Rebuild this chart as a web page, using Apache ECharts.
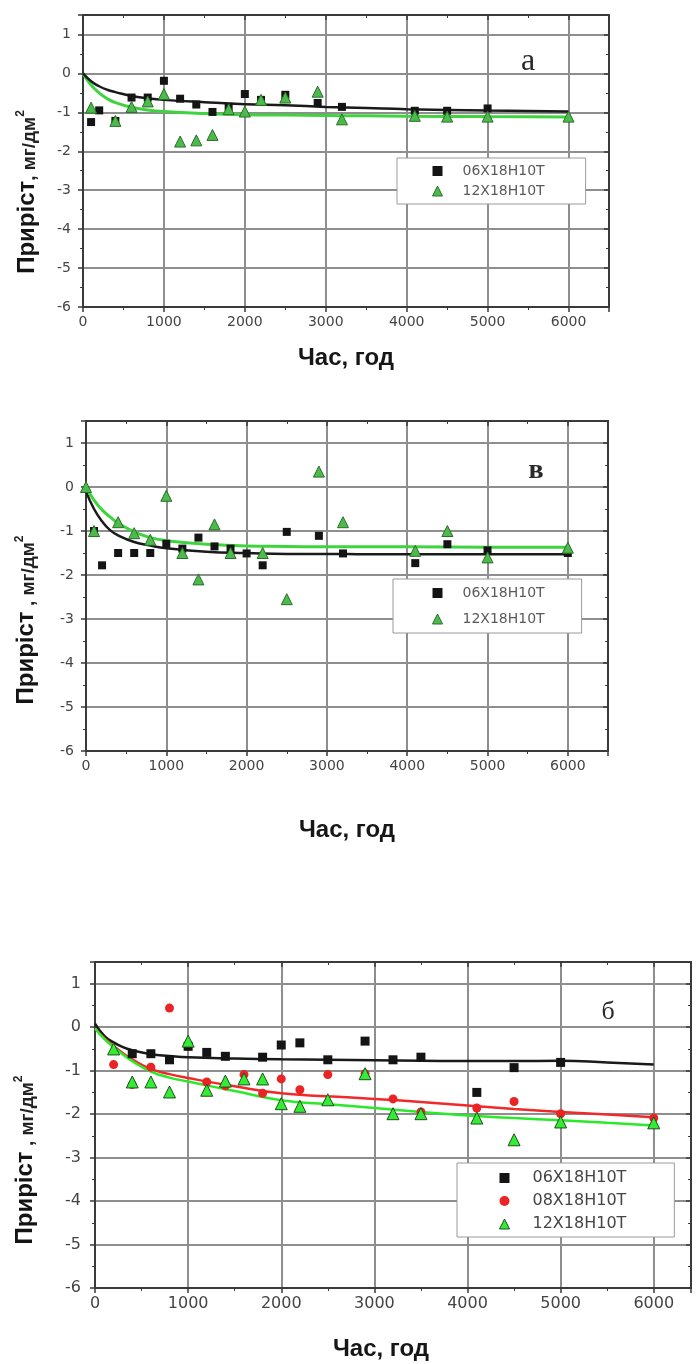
<!DOCTYPE html>
<html lang="uk">
<head>
<meta charset="UTF-8">
<title>Приріст маси сталей</title>
<script src="https://cdn.jsdelivr.net/npm/echarts/dist/echarts.min.js"></script>
<style>
    body { margin: 0; padding: 0; background: #fff; }
    #chart { width: 696px; height: 1364px; }
</style>
</head>
<body>
<div id="chart"></div>
<script>
    // ---- панель "а" ----
    const aTime06 = [100, 200, 400, 600, 800, 1000, 1200, 1400, 1600, 1800, 2000, 2200, 2500, 2900, 3200, 4100, 4500, 5000];
    const aVal06 = [-1.25, -0.95, -1.22, -0.62, -0.62, -0.19, -0.65, -0.80, -0.99, -0.86, -0.53, -0.68, -0.55, -0.76, -0.86, -0.96, -0.96, -0.90];
    const aTime12 = [100, 400, 600, 800, 1000, 1200, 1400, 1600, 1800, 2000, 2200, 2500, 2900, 3200, 4100, 4500, 5000, 6000];
    const aVal12 = [-0.88, -1.22, -0.86, -0.72, -0.53, -1.75, -1.72, -1.58, -0.92, -0.98, -0.68, -0.62, -0.47, -1.18, -1.09, -1.11, -1.11, -1.11];
    const aFitTime = [0, 100, 200, 300, 400, 600, 800, 1000, 1500, 2000, 2500, 3000, 3500, 4000, 5000, 6000];
    const aFit06 = [0, -0.2, -0.33, -0.42, -0.48, -0.58, -0.64, -0.68, -0.74, -0.79, -0.82, -0.86, -0.89, -0.92, -0.95, -0.98];
    const aFit12 = [0, -0.3, -0.5, -0.65, -0.75, -0.87, -0.94, -0.98, -1.03, -1.06, -1.07, -1.08, -1.09, -1.1, -1.11, -1.12];

    // ---- панель "в" ----
    const bTime06 = [100, 200, 400, 600, 800, 1000, 1200, 1400, 1600, 1800, 2000, 2200, 2500, 2900, 3200, 4100, 4500, 5000, 6000];
    const bVal06 = [-1.0, -1.78, -1.5, -1.5, -1.5, -1.29, -1.4, -1.15, -1.35, -1.4, -1.51, -1.78, -1.02, -1.11, -1.51, -1.73, -1.3, -1.44, -1.5];
    const bTime12 = [0, 100, 400, 600, 800, 1000, 1200, 1400, 1600, 1800, 2200, 2500, 2900, 3200, 4100, 4500, 5000, 6000];
    const bVal12 = [0.0, -1.0, -0.8, -1.05, -1.2, -0.2, -1.5, -2.1, -0.85, -1.5, -1.5, -2.55, 0.35, -0.8, -1.45, -1.0, -1.6, -1.38];
    const bFitTime = [0, 100, 200, 300, 400, 600, 800, 1000, 1500, 2000, 2500, 3000, 3500, 4000, 5000, 6000];
    const bFit06 = [-0.1, -0.5, -0.78, -0.98, -1.1, -1.25, -1.33, -1.39, -1.47, -1.5, -1.52, -1.52, -1.53, -1.53, -1.53, -1.53];
    const bFit12 = [0, -0.3, -0.52, -0.68, -0.82, -1.02, -1.15, -1.22, -1.3, -1.34, -1.35, -1.36, -1.36, -1.36, -1.37, -1.37];

    // ---- панель "б" ----
    const cTime06 = [400, 600, 800, 1000, 1200, 1400, 1800, 2000, 2200, 2500, 2900, 3200, 3500, 4100, 4500, 5000];
    const cVal06 = [-0.61, -0.61, -0.75, -0.44, -0.58, -0.67, -0.69, -0.41, -0.36, -0.75, -0.32, -0.75, -0.69, -1.5, -0.93, -0.81];
    const cTime08 = [200, 400, 600, 800, 1000, 1200, 1400, 1600, 1800, 2000, 2200, 2500, 2900, 3200, 3500, 4100, 4500, 5000, 6000];
    const cVal08 = [-0.86, -1.32, -0.92, 0.44, -0.44, -1.26, -1.35, -1.09, -1.52, -1.19, -1.44, -1.09, -1.07, -1.65, -1.95, -1.86, -1.71, -1.99, -2.09];
    const cTime12 = [200, 400, 600, 800, 1000, 1200, 1400, 1600, 1800, 2000, 2200, 2500, 2900, 3200, 3500, 4100, 4500, 5000, 6000];
    const cVal12 = [-0.5, -1.26, -1.26, -1.49, -0.32, -1.45, -1.24, -1.19, -1.19, -1.76, -1.82, -1.67, -1.07, -1.99, -1.99, -2.09, -2.59, -2.18, -2.2];
    const cFitTime = [0, 100, 200, 300, 400, 600, 800, 1000, 1500, 2000, 2500, 3000, 3500, 4000, 4500, 5000, 5500, 6000];
    const cFit06 = [0.08, -0.2, -0.35, -0.46, -0.53, -0.62, -0.66, -0.69, -0.72, -0.74, -0.75, -0.76, -0.77, -0.78, -0.78, -0.77, -0.81, -0.86];
    const cFit08 = [-0.03, -0.25, -0.43, -0.6, -0.74, -0.96, -1.08, -1.17, -1.36, -1.52, -1.59, -1.65, -1.72, -1.8, -1.88, -1.95, -2.01, -2.07];
    const cFit12 = [-0.03, -0.27, -0.46, -0.63, -0.78, -1.02, -1.16, -1.25, -1.47, -1.68, -1.77, -1.86, -1.95, -2.03, -2.09, -2.14, -2.2, -2.26];

    const yTicks = { min: -6, max: 1.5, interval: 1 };
    const names = ['06Х18Н10Т', '08Х18Н10Т', '12Х18Н10Т'];

    const chart = echarts.init(document.getElementById('chart'), null, { renderer: 'canvas' });

    const zip = (xs, ys) => xs.map((x, i) => [x, ys[i]]);
    const frame = '#3a3a3a';
    const gridColor = '#8e8e8e';
    const tickFont = 'DejaVu Sans';
    const plain = v => String(v);

    function xPair(gi, max, fs) {
        const base = {
            gridIndex: gi, type: 'value', min: 0, max: max, interval: 1000,
            axisLine: { show: true, onZero: false, lineStyle: { color: frame, width: 2 } },
            minorTick: { show: true, splitNumber: 2, length: 3, lineStyle: { color: frame } },
            splitLine: { show: false }
        };
        return [
            Object.assign({}, base, {
                position: 'bottom',
                axisTick: { show: true, inside: false, length: 5, lineStyle: { color: frame, width: 1.5 } },
                axisLabel: { color: '#444', fontSize: fs, fontFamily: tickFont, margin: 8, showMaxLabel: false, formatter: plain },
                splitLine: { show: true, lineStyle: { color: gridColor, width: 2 } },
                nameLocation: 'middle',
                nameTextStyle: { fontSize: 24, fontWeight: 'bold', fontFamily: 'Liberation Sans', color: '#161616' }
            }),
            Object.assign({}, base, {
                position: 'top',
                axisTick: { show: true, inside: true, length: 5, lineStyle: { color: frame, width: 1.5 } },
                axisLabel: { show: false }
            })
        ];
    }

    function yPair(gi, fs, margin) {
        const base = {
            gridIndex: gi, type: 'value', min: yTicks.min, max: yTicks.max, interval: yTicks.interval,
            axisLine: { show: true, onZero: false, lineStyle: { color: frame, width: 2 } },
            minorTick: { show: true, splitNumber: 2, length: 3, lineStyle: { color: frame } },
            splitLine: { show: false }
        };
        return [
            Object.assign({}, base, {
                position: 'left',
                axisTick: { show: true, inside: false, length: 5, lineStyle: { color: frame, width: 1.5 } },
                axisLabel: { color: '#444', fontSize: fs, fontFamily: tickFont, margin: margin, showMaxLabel: false, formatter: plain },
                splitLine: { show: true, lineStyle: { color: gridColor, width: 2 } }
            }),
            Object.assign({}, base, {
                position: 'right',
                axisTick: { show: true, inside: true, length: 5, lineStyle: { color: frame, width: 1.5 } },
                axisLabel: { show: false }
            })
        ];
    }

    const xA = xPair(0, 6500, 14), xB = xPair(1, 6500, 14), xC = xPair(2, 6400, 16);
    xA[0].name = 'Час, год'; xA[0].nameGap = 39;
    xB[0].name = 'Час, год'; xB[0].nameGap = 67;
    xC[0].name = 'Час, год'; xC[0].nameGap = 49;
    xC[0].nameTextStyle = Object.assign({}, xC[0].nameTextStyle, { padding: [0, 24, 0, 0] });

    const black = { color: '#141414', opacity: 1 };
    const greenAB = { color: '#4cbb4c', borderColor: '#2a6e2a', borderWidth: 1, opacity: 1 };
    const greenC = { color: '#35ec35', borderColor: '#1e4f1e', borderWidth: 1, opacity: 1 };
    const red = { color: '#ea2424', opacity: 1 };

    function pts(name, xs, ys, idx, symbol, size, style) {
        return {
            name: name, type: 'scatter', xAxisIndex: idx, yAxisIndex: idx,
            symbol: symbol, symbolSize: size, itemStyle: style,
            data: zip(xs, ys), z: 3
        };
    }
    function fit(xs, ys, idx, color, w) {
        return {
            name: 'fit', type: 'line', xAxisIndex: idx, yAxisIndex: idx,
            data: zip(xs, ys), smooth: true, showSymbol: false, silent: true,
            lineStyle: { color: color, width: w }, z: 2
        };
    }

    function legend(left, top, pad, gap, fs, lh, items, color) {
        return {
            left: left, top: top, orient: 'vertical', padding: pad, itemGap: gap,
            itemWidth: 10, itemHeight: 10, backgroundColor: '#fff',
            borderColor: '#9a9a9a', borderWidth: 1, borderRadius: 0,
            selectedMode: false, data: items,
            textStyle: { color: color, fontFamily: tickFont, fontSize: fs, lineHeight: lh, padding: [0, 0, 0, pad[3] > 40 ? 18 : 15] }
        };
    }

    function yName(x, y, sep) {
        return {
            type: 'text', x: x, y: y, rotation: Math.PI / 2, z: 10,
            style: {
                text: '{p|Приріст}{u|' + sep + ', мг/дм}{s|2}',
                align: 'center', verticalAlign: 'middle',
                rich: {
                    p: { fontSize: 24, fontWeight: 'bold', fontFamily: 'Liberation Sans', fill: '#141414', verticalAlign: 'bottom' },
                    u: { fontSize: 19, fontWeight: 'bold', fontFamily: 'Liberation Sans', fill: '#222', verticalAlign: 'bottom' },
                    s: { fontSize: 12, fontWeight: 'bold', fontFamily: 'Liberation Sans', fill: '#222', verticalAlign: 'top' }
                }
            }
        };
    }

    function letter(x, y, t, size, weight) {
        return {
            type: 'text', x: x, y: y, z: 10,
            style: { text: t, fill: '#2a2a2a', font: weight + ' ' + size + 'px "Liberation Serif"', align: 'center', verticalAlign: 'middle' }
        };
    }

    const option = {
        backgroundColor: '#fff',
        animation: false,
        grid: [
            { left: 83, top: 15, width: 526, height: 292, show: false },
            { left: 86, top: 421, width: 522, height: 330, show: false },
            { left: 95, top: 962, width: 596, height: 326, show: false }
        ],
        xAxis: [...xA, ...xB, ...xC],
        yAxis: [...yPair(0, 14, 12), ...yPair(1, 14, 12), ...yPair(2, 16, 14)],
        legend: [
            legend(397, 158, [5, 41, 5, 35], 4, 14, 16,
                [{ name: names[0], itemStyle: black }, { name: names[2], itemStyle: greenAB }], '#5a5a5a'),
            legend(393, 579, [6, 37, 6, 39], 10, 14, 16,
                [{ name: names[0], itemStyle: black }, { name: names[2], itemStyle: greenAB }], '#5a5a5a'),
            legend(457, 1163, [6, 48, 4, 42], 5, 16, 18,
                [{ name: names[0], itemStyle: black }, { name: names[1], itemStyle: red }, { name: names[2], itemStyle: greenC }], '#454545')
        ],
        graphic: [
            yName(27, 192, ''),
            yName(26, 620, ' '),
            yName(25, 1160, ' '),
            letter(528, 62, 'a', 32, 'normal'),
            letter(536, 471, 'в', 28, 'bold'),
            letter(608, 1012, 'б', 26, 'normal')
        ],
        series: [
            // а
            fit(aFitTime, aFit12, 0, '#3fd43f', 3),
            fit(aFitTime, aFit06, 0, '#1a1a1a', 2.5),
            pts(names[0], aTime06, aVal06, 0, 'rect', 8, black),
            pts(names[2], aTime12, aVal12, 0, 'triangle', 11, greenAB),
            // в
            fit(bFitTime, bFit06, 2, '#1a1a1a', 2.5),
            fit(bFitTime, bFit12, 2, '#3fd43f', 3),
            pts(names[0], bTime06, bVal06, 2, 'rect', 8, black),
            pts(names[2], bTime12, bVal12, 2, 'triangle', 11, greenAB),
            // б
            fit(cFitTime, cFit06, 4, '#1a1a1a', 2.5),
            fit(cFitTime, cFit08, 4, '#f02a2a', 2.5),
            fit(cFitTime, cFit12, 4, '#2ae82a', 2.5),
            pts(names[1], cTime08, cVal08, 4, 'circle', 9, red),
            pts(names[0], cTime06, cVal06, 4, 'rect', 9, black),
            pts(names[2], cTime12, cVal12, 4, 'triangle', 12, greenC)
        ]
    };

    chart.setOption(option);
</script>
</body>
</html>
